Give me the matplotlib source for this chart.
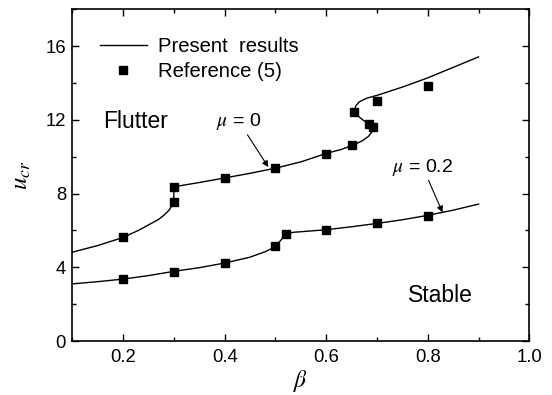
import matplotlib
matplotlib.use("Agg")
import matplotlib.pyplot as plt
from matplotlib.ticker import MultipleLocator

plt.rcParams['font.family'] = ['Liberation Sans', 'DejaVu Sans']
plt.rcParams['mathtext.fontset'] = 'stix'

# --- data ---
# mu = 0 : "Present results" curve (ordered along the curve)
curve0_beta = [0.10, 0.15, 0.20, 0.23, 0.25, 0.27, 0.28, 0.29, 0.296, 0.299, 0.300,
               0.300, 0.302, 0.35, 0.40, 0.45, 0.50, 0.55, 0.60, 0.63, 0.65, 0.67,
               0.683, 0.690, 0.690, 0.683, 0.672, 0.661, 0.656, 0.658, 0.665, 0.680,
               0.70, 0.75, 0.80, 0.85, 0.90]
curve0_u = [4.82, 5.18, 5.62, 6.00, 6.30, 6.60, 6.82, 7.08, 7.35, 7.60, 7.90,
            8.20, 8.38, 8.60, 8.85, 9.10, 9.38, 9.72, 10.18, 10.40, 10.60, 10.85,
            11.10, 11.35, 11.55, 11.78, 12.00, 12.25, 12.50, 12.75, 12.98, 13.18,
            13.33, 13.78, 14.28, 14.85, 15.42]
# mu = 0.2 : "Present results" curve
curve2_beta = [0.10, 0.15, 0.20, 0.25, 0.30, 0.35, 0.40, 0.45, 0.48, 0.50, 0.51,
               0.52, 0.535, 0.55, 0.60, 0.65, 0.70, 0.75, 0.80, 0.85, 0.90]
curve2_u = [3.10, 3.22, 3.36, 3.55, 3.78, 3.98, 4.23, 4.55, 4.85, 5.12, 5.45,
            5.78, 5.90, 5.93, 6.04, 6.20, 6.38, 6.58, 6.82, 7.10, 7.43]
# Reference (5) points
ref0_beta = [0.20, 0.30, 0.30, 0.40, 0.50, 0.60, 0.65, 0.655, 0.685, 0.692, 0.70, 0.80]
ref0_u = [5.64, 7.56, 8.38, 8.85, 9.40, 10.16, 10.62, 12.44, 11.75, 11.60, 13.04, 13.86]
ref2_beta = [0.20, 0.30, 0.40, 0.50, 0.52, 0.60, 0.70, 0.80]
ref2_u = [3.35, 3.77, 4.22, 5.17, 5.81, 6.03, 6.38, 6.79]

xticks = [0.2, 0.4, 0.6, 0.8, 1.0]
yticks = [0, 4, 8, 12, 16]

fig = plt.figure(figsize=(5.52, 3.95), dpi=100)
ax = fig.add_axes([0.131, 0.1367, 0.828, 0.8397])

line0, = ax.plot(curve0_beta, curve0_u, color='k', lw=1.0, label='Present  results')
ax.plot(curve2_beta, curve2_u, color='k', lw=1.0)
pts0, = ax.plot(ref0_beta, ref0_u, ls='none', marker='s', ms=5.8, color='k',
                label='Reference (5)')
ax.plot(ref2_beta, ref2_u, ls='none', marker='s', ms=5.8, color='k')

ax.set_xlim(0.1, 1.0)
ax.set_ylim(0, 18)
ax.set_xticks(xticks)
ax.set_xticklabels([f'{v:.1f}' for v in xticks])
ax.set_yticks(yticks)
ax.xaxis.set_minor_locator(MultipleLocator(0.1))
ax.yaxis.set_minor_locator(MultipleLocator(2))
ax.tick_params(which='both', direction='in', top=True, right=True, labelsize=13.3)
ax.tick_params(which='major', length=5, width=1.0)
ax.tick_params(which='minor', length=3, width=1.0)
ax.tick_params(axis='x', pad=6)
ax.tick_params(axis='y', pad=4.5)
for s in ax.spines.values():
    s.set_linewidth(1.2)

ax.set_xlabel(r'$\beta$', fontsize=17, labelpad=1)
ax.set_ylabel(r'$u_{cr}$', fontsize=18, labelpad=9)

ax.text(0.1 + (103 - 72.3) / 507.8, 11.9, 'Flutter', fontsize=16.5, ha='left', va='center')
ax.text(0.1 + (408 - 72.3) / 507.8, 2.45, 'Stable', fontsize=16.5, ha='left', va='center')

arrow = dict(arrowstyle='-|>', lw=0.8, color='k', mutation_scale=9, shrinkA=0, shrinkB=0)
ax.annotate(r'$\mu$ = 0', xy=(0.486, 9.44), xytext=(0.428, 11.91), fontsize=14,
            ha='center', va='center', arrowprops=arrow)
ax.annotate(r'$\mu$ = 0.2', xy=(0.829, 6.98), xytext=(0.79, 9.44), fontsize=14,
            ha='center', va='center', arrowprops=arrow)

ax.legend(handles=[line0, pts0], loc='upper left', bbox_to_anchor=(0.0606, 0.917),
          frameon=False, fontsize=14.6, handlelength=2.3, handletextpad=0.57,
          labelspacing=0.3, borderpad=0, borderaxespad=0, markerscale=0.9)

fig.savefig('out.png', dpi=100)
